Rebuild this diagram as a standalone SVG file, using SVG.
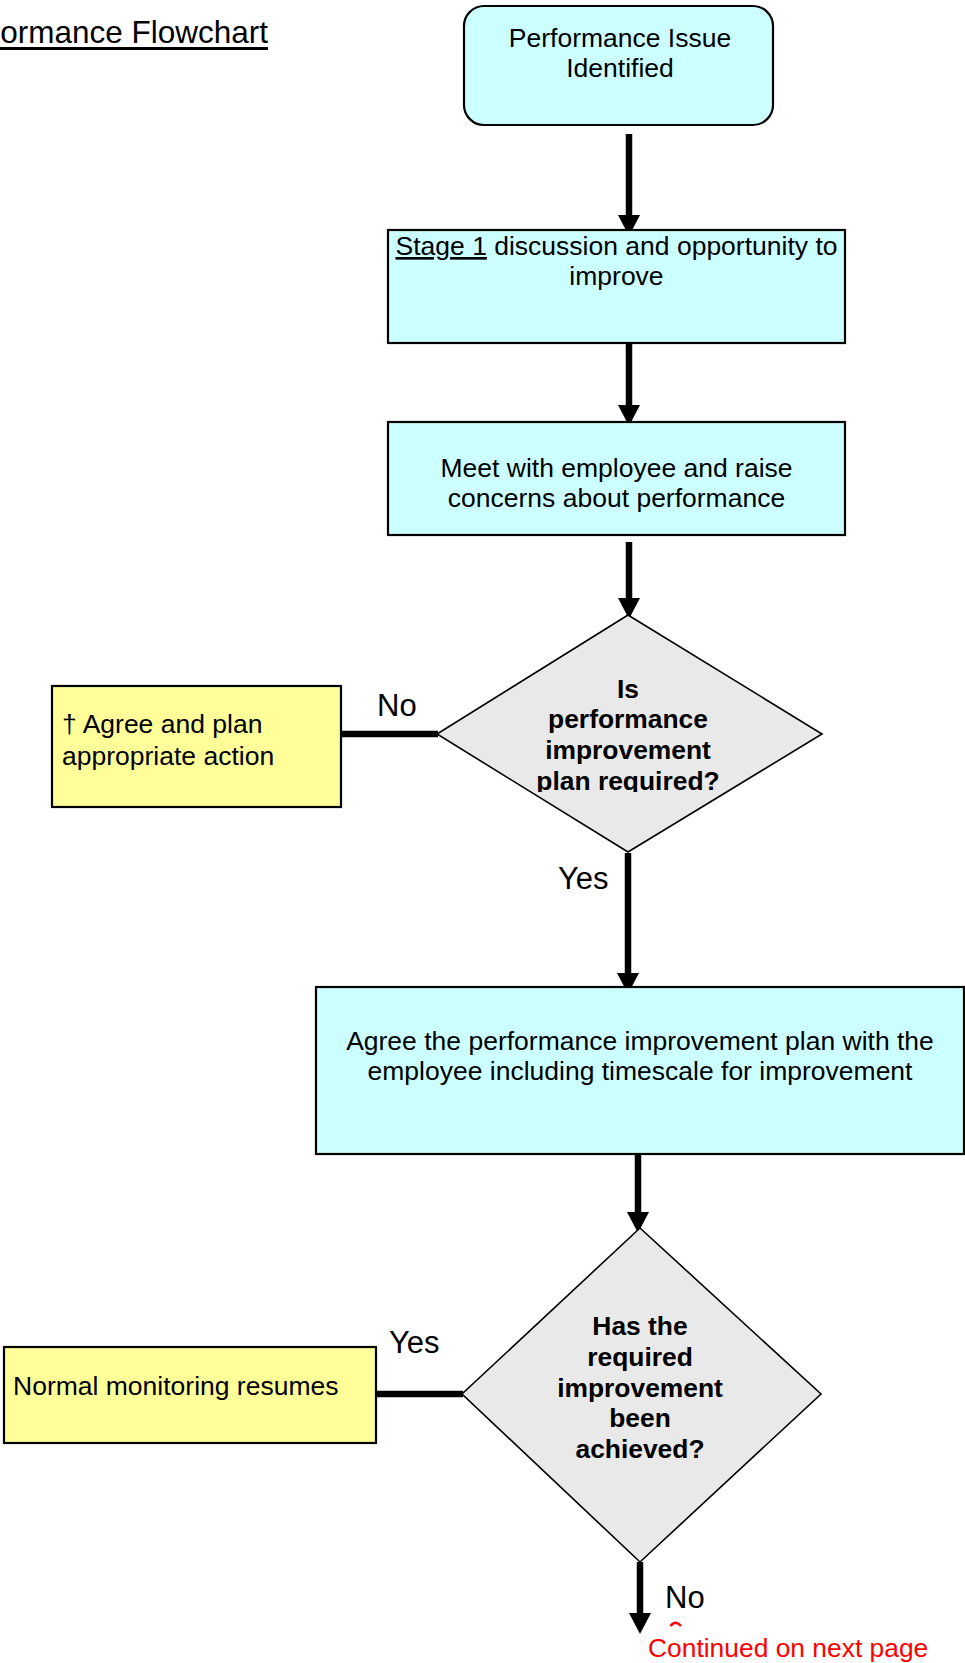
<svg xmlns="http://www.w3.org/2000/svg" width="965" height="1663" viewBox="0 0 965 1663">
<style>
  text { font-family: "Liberation Sans", Arial, sans-serif; fill: #000; }
  .t { font-size: 26.5px; text-anchor: middle; }
  .tl { font-size: 26.5px; }
  .b { font-size: 26.4px; font-weight: bold; text-anchor: middle; }
  .lbl { font-size: 31px; }
  .cyan { fill: #CCFFFF; stroke: #000; stroke-width: 2.2; }
  .yel { fill: #FFFF99; stroke: #000; stroke-width: 2.2; }
  .dia { fill: #E9E9E9; stroke: #000; stroke-width: 1.6; }
  .conn { stroke: #000; stroke-width: 6.5; fill: none; }
  .arr { stroke: #000; stroke-width: 6.5; fill: none; marker-end: url(#ah); }
</style>
<defs>
  <marker id="ah" markerUnits="userSpaceOnUse" markerWidth="22" markerHeight="22" viewBox="0 0 20 20" refX="9" refY="10" orient="auto">
    <path d="M0,0 L19,10 L0,20 Z" fill="#000"/>
  </marker>
  <clipPath id="clipD1">
    <rect x="520" y="660" width="220" height="132"/>
  </clipPath>
</defs>

<g id="title">
  <text x="268" y="43" font-size="31.5" text-anchor="end">ormance Flowchart</text>
  <rect x="0" y="47" width="268" height="3" fill="#000"/>
</g>

<g id="connectors">
  <line class="arr" x1="629" y1="134" x2="629" y2="225"/>
  <line class="arr" x1="629" y1="343" x2="629" y2="415"/>
  <line class="arr" x1="629" y1="542" x2="629" y2="608"/>
  <line class="conn" x1="341" y1="734" x2="438" y2="734"/>
  <line class="arr" x1="628" y1="853" x2="628" y2="983"/>
  <line class="arr" x1="638" y1="1154" x2="638" y2="1222"/>
  <line class="conn" x1="376" y1="1394" x2="463" y2="1394"/>
  <line class="arr" x1="640" y1="1562" x2="640" y2="1623"/>
</g>

<g id="n-issue">
  <rect class="cyan" x="464" y="6" width="309" height="119" rx="20" ry="20"/>
  <text class="t" x="620" y="47" font-size="25.5">Performance Issue</text>
  <text class="t" x="620" y="77" font-size="25.5">Identified</text>
</g>

<g id="n-stage1">
  <rect class="cyan" x="388" y="230" width="457" height="113"/>
  <text class="t" x="616.5" y="255"><tspan text-decoration="underline">Stage 1</tspan> discussion and opportunity to</text>
  <text class="t" x="616.5" y="285">improve</text>
</g>

<g id="n-meet">
  <rect class="cyan" x="388" y="422" width="457" height="113"/>
  <text class="t" x="616.5" y="477">Meet with employee and raise</text>
  <text class="t" x="616.5" y="507">concerns about performance</text>
</g>

<g id="n-decision1">
  <polygon class="dia" points="628,615 822,734 628,852 437,734"/>
  <g clip-path="url(#clipD1)">
    <text class="b" x="628" y="698">Is</text>
    <text class="b" x="628" y="728">performance</text>
    <text class="b" x="628" y="759">improvement</text>
    <text class="b" x="628" y="790">plan required?</text>
  </g>
</g>

<g id="n-agree-action">
  <rect class="yel" x="52" y="686" width="289" height="121"/>
  <text class="tl" x="62" y="733">† Agree and plan</text>
  <text class="tl" x="62" y="765">appropriate action</text>
</g>

<g id="n-agree-plan">
  <rect class="cyan" x="316" y="987" width="648" height="167"/>
  <text class="t" x="640" y="1050">Agree the performance improvement plan with the</text>
  <text class="t" x="640" y="1080">employee including timescale for improvement</text>
</g>

<g id="n-decision2">
  <polygon class="dia" points="640,1228 821,1394 640,1562 462,1394"/>
  <text class="b" x="640" y="1335">Has the</text>
  <text class="b" x="640" y="1366">required</text>
  <text class="b" x="640" y="1397">improvement</text>
  <text class="b" x="640" y="1427">been</text>
  <text class="b" x="640" y="1458">achieved?</text>
</g>

<g id="n-normal">
  <rect class="yel" x="4" y="1347" width="372" height="96"/>
  <text class="tl" x="13" y="1395">Normal monitoring resumes</text>
</g>

<g id="labels">
  <text class="lbl" x="377" y="716">No</text>
  <text class="lbl" x="558" y="889">Yes</text>
  <text class="lbl" x="389" y="1353">Yes</text>
  <text class="lbl" x="665" y="1608">No</text>
</g>

<g id="continued">
  <path d="M670.5,1626 Q675.5,1619.5 681,1626" stroke="#FF0000" stroke-width="2.5" fill="none"/>
  <text x="648" y="1657" font-size="26.4" fill="#FF0000" style="fill:#FF0000">Continued on next page</text>
</g>
</svg>
